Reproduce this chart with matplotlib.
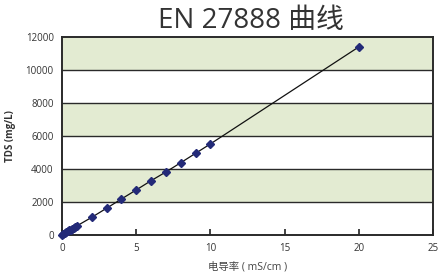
import numpy as np
import matplotlib
matplotlib.use('Agg')
import matplotlib.pyplot as plt

plt.rcParams['font.family'] = ['Open Sans', 'Noto Sans CJK SC', 'DejaVu Sans']

# 数据 (电导率 mS/cm -> TDS mg/L)
conductivity = [0, 0.1, 0.2, 0.3, 0.4, 0.5, 0.6, 0.7, 0.8, 0.9, 1.0,
                2, 3, 4, 5, 6, 7, 8, 9, 10, 20]
tds = [0, 60, 110, 165, 220, 275, 330, 385, 440, 495, 550,
       1070, 1620, 2180, 2730, 3290, 3820, 4380, 4950, 5520, 11400]

x_ticks = [0, 5, 10, 15, 20, 25]
y_ticks = [0, 2000, 4000, 6000, 8000, 10000, 12000]
band_color = '#e3ebd2'

fig = plt.figure(figsize=(4.4, 2.77), dpi=100)
ax = fig.add_axes([62/440, 1 - 235/277, 371/440, 198/277])

# 背景条纹
for i, lo in enumerate(y_ticks[:-1]):
    if i % 2 == 1:
        ax.axhspan(lo, y_ticks[i + 1], color=band_color, zorder=0, lw=0)
for y in y_ticks[1:-1]:
    ax.axhline(y, color='#2a2a2a', lw=1.0, zorder=1)

ax.plot(conductivity, tds, color='#111111', lw=0.9, zorder=2)
ax.plot(conductivity, tds, ls='none', marker='D', ms=3.8, color='#232a78',
        markeredgecolor='#232a78', zorder=3, clip_on=False)

ax.set_xlim(0, 25)
ax.set_ylim(0, 12000)
ax.set_xticks(x_ticks)
ax.set_yticks(y_ticks)
ax.tick_params(axis='x', direction='in', length=4, width=1.2, color='#222222',
               labelsize=7, labelcolor='#333333', pad=6)
ax.tick_params(axis='y', length=0, labelsize=7, labelcolor='#333333', pad=6)
for s in ax.spines.values():
    s.set_color('#2a2a2a')
    s.set_linewidth(1.4)

ax.set_xlabel('电导率 ( mS/cm )', fontsize=7.5, color='#444444', labelpad=5)
ax.set_ylabel('TDS (mg/L)', fontsize=7, fontweight='bold', color='#333333', labelpad=7)
fig.text(251/440, 1 - 21/277, 'EN 27888 曲线', ha='center', va='center',
         fontsize=20, color='#333333')

fig.savefig('out.png', dpi=100)
